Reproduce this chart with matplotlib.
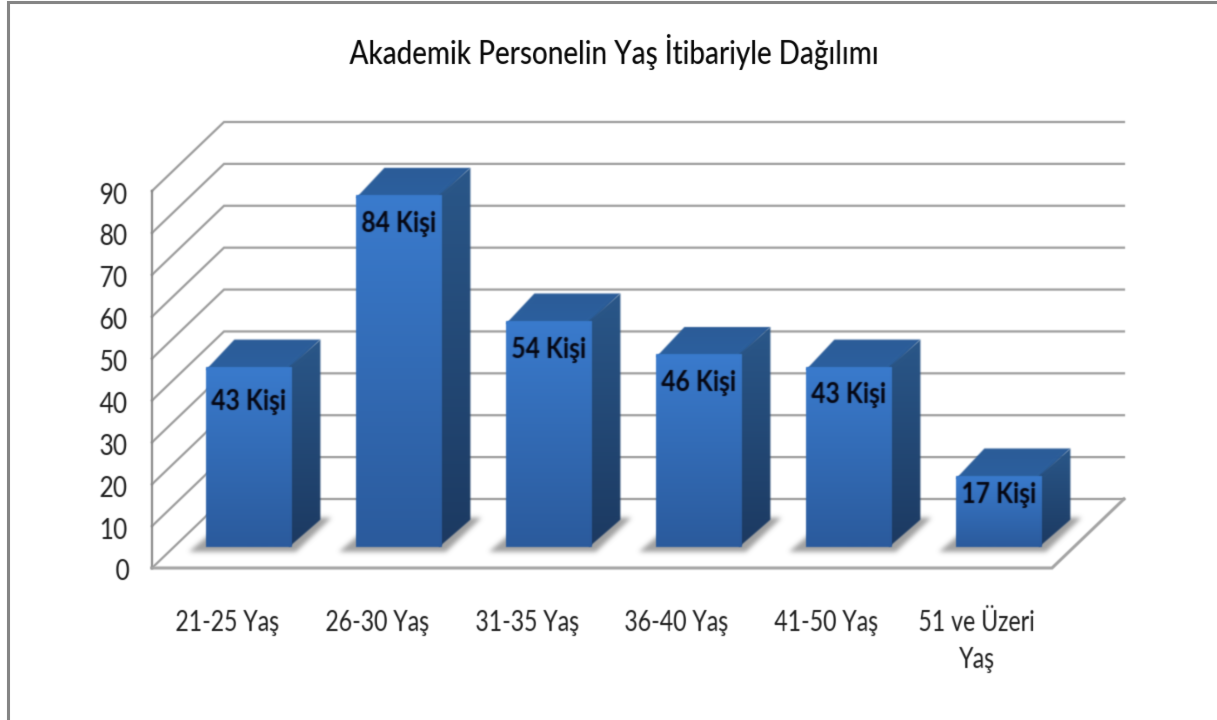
import numpy as np
import matplotlib
matplotlib.use("Agg")
import matplotlib.pyplot as plt
from matplotlib.patches import Polygon, Rectangle
from matplotlib.colors import LinearSegmentedColormap
from matplotlib.transforms import ScaledTranslation

categories = ["21-25 Yaş", "26-30 Yaş", "31-35 Yaş", "36-40 Yaş", "41-50 Yaş", "51 ve Üzeri\nYaş"]
values = [43, 84, 54, 46, 43, 17]
labels = ["43 Kişi", "84 Kişi", "54 Kişi", "46 Kişi", "43 Kişi", "17 Kişi"]
y_ticks = list(range(0, 100, 10))
title = "Akademik Personelin Yaş İtibariyle Dağılımı"

W, H = 1217, 720
plt.rcParams["font.family"] = ["Lato", "DejaVu Sans"]


def _blur1d(a, sigma, axis):
    r = int(np.ceil(3 * sigma))
    k = np.exp(-0.5 * (np.arange(-r, r + 1) / sigma) ** 2)
    k /= k.sum()
    return np.apply_along_axis(lambda m: np.convolve(m, k, mode="same"), axis, a)


def soften(sigma=0.8, squeeze=1.0):
    """agg filter: blur an artist's pixels and narrow them around their centre."""
    def flt(img, dpi):
        pad = int(np.ceil(3 * sigma)) + 2
        img = np.pad(img, ((pad, pad), (pad, pad), (0, 0)))
        a = img[..., 3:4]
        pm = np.concatenate([img[..., :3] * a, a], axis=2)
        for ax_ in (0, 1):
            pm = _blur1d(pm, sigma, ax_)
        ox = 0
        if squeeze != 1.0:
            w = pm.shape[1]
            nw = max(int(round(w * squeeze)), 1)
            xs = (np.arange(nw) + 0.5) / squeeze - 0.5
            i0 = np.clip(np.floor(xs).astype(int), 0, w - 1)
            i1 = np.clip(i0 + 1, 0, w - 1)
            t = np.clip(xs - i0, 0, 1)[None, :, None]
            pm = pm[:, i0] * (1 - t) + pm[:, i1] * t
            ox = (w - nw) / 2
        a = pm[..., 3:4]
        rgb = np.where(a > 1e-4, pm[..., :3] / np.maximum(a, 1e-4), 0)
        return np.clip(np.concatenate([rgb, a], axis=2), 0, 1), int(ox) - pad, -pad
    return flt


fig = plt.figure(figsize=(W / 100, H / 100), dpi=100, facecolor="white")
L, R, T, B = 152, 1052, 191, 568
ax = fig.add_axes([L / W, 1 - B / H, (R - L) / W, (B - T) / H])
ax.set_facecolor("none")
ax.set_xlim(0, 6)
ax.set_ylim(0, 90)

PX = 6 / (R - L)            # x data units per pixel
PY = 90 / (B - T)           # y data units per pixel
DX, DY = 72 * PX, 69 * PY   # oblique depth of the chart box
Z0, Z1 = 0.305, 0.70        # bar depth range
BAR = 86 * PX


def prj(x, y, z=0.0):
    return (x + z * DX, y + z * DY)


# walls and floor
grid = "#9c9c9c"
line_soft = soften(0.6)
for v in y_ticks:
    p0, p1, p2 = prj(0, v), prj(0, v, 1), prj(6, v, 1)
    ln, = ax.plot([p0[0], p1[0], p2[0]], [p0[1], p1[1], p2[1]], color=grid, lw=1.6, zorder=1,
                  clip_on=False, solid_joinstyle="miter")
    ln.set_agg_filter(line_soft)
ln, = ax.plot([0, 0], [0, 90], color="#8c8c8c", lw=1.6, zorder=1.1, clip_on=False)
ln.set_agg_filter(line_soft)
fl = [prj(0, 0), prj(6, 0), prj(6, 0, 1)]
ln, = ax.plot([p[0] for p in fl], [p[1] for p in fl], color="#a4a4a4", lw=2.2, zorder=1.1, clip_on=False,
              solid_joinstyle="miter")
ln.set_agg_filter(line_soft)

front_cm = LinearSegmentedColormap.from_list("f", ["#2b5b9d", "#3a7bcd"])
side_cm = LinearSegmentedColormap.from_list("s", ["#1c3a62", "#2a5789"])
top_cm = LinearSegmentedColormap.from_list("t", ["#2c609f", "#2b5c98"])
face_soft = soften(0.7)
shadow_soft = soften(2.4)


def face(pts, cmap, z):
    poly = Polygon(pts, closed=True, transform=ax.transData, fc="none", ec="none")
    ax.add_patch(poly)
    poly.set_clip_on(False)
    xs, ys = zip(*pts)
    grad = np.linspace(1, 0, 64).reshape(-1, 1)
    im = ax.imshow(grad, cmap=cmap, vmin=0, vmax=1, aspect="auto", interpolation="bilinear",
                   extent=[min(xs), max(xs), min(ys), max(ys)], zorder=z)
    im.set_clip_box(fig.bbox)
    im.set_clip_path(poly)
    im.set_agg_filter(face_soft)


def shadow(x0, x1, z):
    a, b = 0.235, 0.73
    pts = [prj(x0 - 12 * PX, 0, a), prj(x1 + 9 * PX, 0, a),
           prj(x1 + 9 * PX, 0, b), prj(x0 - 7 * PX, 0, b)]
    p = Polygon(pts, closed=True, fc="#7c7c7c", ec="none", alpha=0.72, zorder=z, clip_on=False)
    ax.add_patch(p)
    p.set_agg_filter(shadow_soft)


OVER_X, OVER_Y = 3 * PX, 3 * PY   # side and top faces run under the front face, so no seam shows
for i, v in enumerate(values):
    x0 = i + 0.5 - BAR / 2
    x1 = x0 + BAR
    z = 3 + i
    shadow(x0, x1, 2)
    face([prj(x0, 0, Z0), prj(x1, 0, Z0), prj(x1, v, Z0), prj(x0, v, Z0)], front_cm, z + 0.3)
    face([prj(x1 - OVER_X, 0, Z0), prj(x1, 0, Z1), prj(x1, v, Z1), prj(x1 - OVER_X, v, Z0)], side_cm, z + 0.2)
    face([prj(x0, v - OVER_Y, Z0), prj(x1 - OVER_X, v - OVER_Y, Z0), prj(x1, v, Z1), prj(x0, v, Z1)], top_cm, z + 0.1)

ax.set_xlim(0, 6)
ax.set_ylim(0, 90)

# value labels
label_drop = [35, 29, 29, 29, 28, 19]
for i, (v, s, d) in enumerate(zip(values, labels, label_drop)):
    t = ax.annotate(s, xy=prj(i + 0.5, v, Z0), xytext=(0, -d * 0.72), textcoords="offset points",
                    ha="center", va="center", fontsize=21, fontweight="bold", color="#060610", zorder=20)
    t.set_agg_filter(soften(0.5, 0.92))

ax.set_yticks(y_ticks)
ax.set_yticklabels([str(v) for v in y_ticks], fontsize=20, color="#1c1c1c")
ax.set_xticks([i + 0.5 for i in range(6)])
ax.set_xticklabels(categories, fontsize=20, color="#1c1c1c", linespacing=1.55)
ax.tick_params(axis="both", length=0)
ax.tick_params(axis="y", pad=16)
ax.tick_params(axis="x", pad=30)
shift = ScaledTranslation(0, -2 / 100, fig.dpi_scale_trans)
for t in ax.get_yticklabels():
    t.set_transform(t.get_transform() + shift)
    t.set_agg_filter(soften(0.55, 0.88))
for t in ax.get_xticklabels():
    t.set_agg_filter(soften(0.55, 0.83))
for s in ax.spines.values():
    s.set_visible(False)

ttl = fig.text(614 / W, 1 - 52 / H, title, ha="center", va="center", fontsize=23, fontweight="medium", color="#060606")
ttl.set_agg_filter(soften(0.45, 0.87))

# outer chart frame
fig.add_artist(Rectangle((8 / W, -0.02), 1.2, 1.02 - 1.5 / H, transform=fig.transFigure,
                         fc="none", ec="#858585", lw=2.2))

fig.savefig("out.png", dpi=100, facecolor="white")
